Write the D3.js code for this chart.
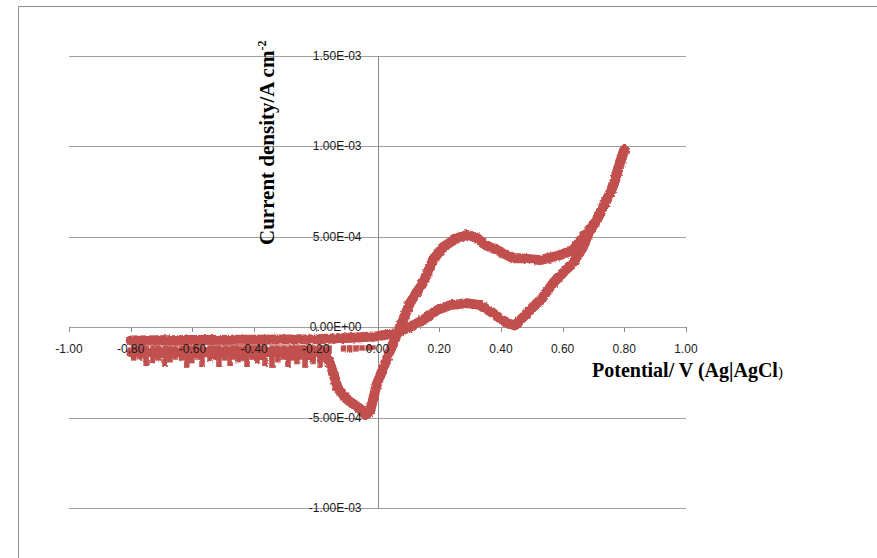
<!doctype html>
<html>
<head>
    <meta charset="utf-8">
    <title>Cyclic voltammogram</title>
    <style>
        body { margin: 0; background: #fff; }
        svg { display: block; }
        .grid { stroke: #a0a0a0; stroke-width: 1.3; shape-rendering: crispEdges; }
        .axis { stroke: #8a8a8a; stroke-width: 1; shape-rendering: crispEdges; }
        .tick-label { font-family: "Liberation Sans", Arial, sans-serif; font-size: 12px; fill: #1a1a1a; }
        .title { font-family: "Liberation Serif", "Times New Roman", serif; font-weight: bold; font-size: 20px; fill: #000; }
        .scan { fill: none; stroke: #c0504d; stroke-width: 10; stroke-linejoin: round; stroke-linecap: round; }
        .spike { stroke: #c0504d; stroke-width: 5.5; }
    </style>
</head>
<body>
<div id="chart"></div>
<script src="https://cdn.jsdelivr.net/npm/d3@7"></script>
<script>
    // axis ticks
    var xTicks = [-1.0, -0.8, -0.6, -0.4, -0.2, 0.0, 0.2, 0.4, 0.6, 0.8, 1.0];
    var yTicks = [-1.0e-3, -5.0e-4, 0, 5.0e-4, 1.0e-3, 1.5e-3];

    // cathodic-going scan, 0.80 V -> -0.80 V (current in A cm-2)
    var backV = [0.80, 0.786, 0.77, 0.754, 0.731, 0.711, 0.689, 0.666, 0.634, 0.601, 0.569, 0.536,
                 0.504, 0.472, 0.445, 0.425, 0.40, 0.374, 0.332, 0.29, 0.235, 0.193, 0.147, 0.105,
                 0.057, 0.0, -0.1, -0.2, -0.4, -0.6, -0.8];
    var backI = [9.8e-4, 9.1e-4, 8.15e-4, 7.4e-4, 6.65e-4, 5.93e-4, 5.38e-4, 4.43e-4, 3.55e-4, 3.0e-4, 2.44e-4, 1.66e-4,
                 1.11e-4, 0.55e-4, 0.1e-4, 0.2e-4, 0.45e-4, 0.78e-4, 1.22e-4, 1.33e-4, 1.22e-4, 0.94e-4, 0.39e-4, 0.0,
                 -0.33e-4, -0.5e-4, -0.6e-4, -0.66e-4, -0.69e-4, -0.71e-4, -0.73e-4];

    // anodic-going scan, -0.80 V -> 0.80 V
    var fwdV = [-0.8, -0.6, -0.4, -0.2, -0.17, -0.154, -0.128, -0.099, -0.057, -0.04, -0.025, -0.002,
                0.04, 0.083, 0.105, 0.147, 0.18, 0.212, 0.258, 0.29, 0.323, 0.348, 0.387, 0.439,
                0.462, 0.527, 0.592, 0.634, 0.666, 0.689, 0.711, 0.731, 0.754, 0.77, 0.786, 0.80];
    var fwdI = [-1.38e-4, -1.38e-4, -1.38e-4, -1.35e-4, -1.48e-4, -2.0e-4, -3.4e-4, -4.0e-4, -4.5e-4, -4.85e-4, -4.7e-4, -3.15e-4,
                -1.33e-4, 0.39e-4, 1.33e-4, 2.44e-4, 3.71e-4, 4.43e-4, 4.93e-4, 5.1e-4, 4.93e-4, 4.55e-4, 4.27e-4, 3.82e-4,
                3.82e-4, 3.71e-4, 3.99e-4, 4.27e-4, 4.99e-4, 5.38e-4, 5.93e-4, 6.65e-4, 7.4e-4, 8.15e-4, 9.1e-4, 9.8e-4];

    // noise spikes below the cathodic tail (position, lowest current)
    var spikeV = [-0.79, -0.77, -0.75, -0.728, -0.71, -0.689, -0.673, -0.655, -0.635, -0.618, -0.602, -0.585,
                  -0.569, -0.543, -0.53, -0.514, -0.495, -0.478, -0.465, -0.452, -0.437, -0.423, -0.405, -0.391,
                  -0.378, -0.365, -0.342, -0.323, -0.305, -0.29, -0.275, -0.261, -0.248, -0.235, -0.222, -0.209,
                  -0.186, -0.17, -0.157,
                  -0.11, -0.09, -0.07, -0.05, -0.03, -0.015];
    var spikeI = [-1.85e-4, -1.8e-4, -2.15e-4, -2.0e-4, -1.85e-4, -2.2e-4, -1.95e-4, -1.8e-4, -1.85e-4, -2.25e-4, -2.0e-4, -1.8e-4,
                  -2.15e-4, -1.9e-4, -1.8e-4, -2.2e-4, -1.85e-4, -2.15e-4, -1.8e-4, -1.95e-4, -1.85e-4, -2.2e-4, -1.8e-4, -2.0e-4,
                  -1.85e-4, -2.15e-4, -2.25e-4, -1.95e-4, -1.8e-4, -2.2e-4, -1.85e-4, -2.05e-4, -1.8e-4, -2.25e-4, -1.85e-4, -2.05e-4,
                  -2.25e-4, -1.9e-4, -2.15e-4,
                  -1.35e-4, -1.4e-4, -1.35e-4, -1.3e-4, -1.3e-4, -1.25e-4];
    var spikeBase = -1.0e-4;

    var svg_width = 877;
    var svg_height = 558;

    var x = d3.scaleLinear().domain([-1, 1]).range([69, 686]);
    var y = d3.scaleLinear().domain([-1e-3, 1.5e-3]).range([508, 56]);

    var svg = d3.select('#chart').append('svg')
        .attr('width', svg_width)
        .attr('height', svg_height);

    // roughen the marker band edges a little
    var filter = svg.append('defs').append('filter')
        .attr('id', 'rough')
        .attr('filterUnits', 'userSpaceOnUse')
        .attr('x', 0).attr('y', 0)
        .attr('width', svg_width).attr('height', svg_height);
    filter.append('feTurbulence')
        .attr('type', 'fractalNoise')
        .attr('baseFrequency', 0.35)
        .attr('numOctaves', 2)
        .attr('seed', 3)
        .attr('result', 'noise');
    filter.append('feDisplacementMap')
        .attr('in', 'SourceGraphic')
        .attr('in2', 'noise')
        .attr('scale', 3)
        .attr('xChannelSelector', 'R')
        .attr('yChannelSelector', 'G');

    // chart area frame (only top and left visible)
    svg.append('path')
        .attr('d', 'M18.5,' + svg_height + 'V6.5H' + svg_width)
        .attr('fill', 'none')
        .attr('stroke', '#909090');

    // horizontal gridlines
    svg.selectAll('line.grid')
        .data(yTicks)
      .enter().append('line')
        .attr('class', 'grid')
        .attr('x1', x(-1))
        .attr('x2', x(1))
        .attr('y1', function(d) { return Math.round(y(d)) + 0.5; })
        .attr('y2', function(d) { return Math.round(y(d)) + 0.5; });

    // vertical axis at 0 V
    svg.append('line')
        .attr('class', 'axis')
        .attr('x1', Math.round(x(0)) + 0.5)
        .attr('x2', Math.round(x(0)) + 0.5)
        .attr('y1', y(1.5e-3))
        .attr('y2', y(-1e-3));

    // x tick marks on the zero line
    svg.selectAll('line.xtick')
        .data(xTicks)
      .enter().append('line')
        .attr('class', 'axis xtick')
        .attr('x1', function(d) { return Math.round(x(d)) + 0.5; })
        .attr('x2', function(d) { return Math.round(x(d)) + 0.5; })
        .attr('y1', y(0))
        .attr('y2', y(0) + 5);

    // data
    var line = d3.line()
        .x(function(d) { return x(d[0]); })
        .y(function(d) { return y(d[1]); });

    var back = backV.map(function(v, i) { return [v, backI[i]]; });
    var fwd = fwdV.map(function(v, i) { return [v, fwdI[i]]; });

    var series = svg.append('g').attr('filter', 'url(#rough)');

    series.selectAll('line.spike')
        .data(spikeV.map(function(v, i) { return [v, spikeI[i]]; }))
      .enter().append('line')
        .attr('class', 'spike')
        .attr('x1', function(d) { return x(d[0]); })
        .attr('x2', function(d) { return x(d[0]); })
        .attr('y1', y(spikeBase))
        .attr('y2', function(d) { return y(d[1]); });

    series.append('path').attr('class', 'scan').attr('d', line(back));
    series.append('path').attr('class', 'scan').attr('d', line(fwd));

    // tick labels
    function fmtE(v) {
        var parts = v.toExponential(2).split('e');
        var n = +parts[1];
        return parts[0] + 'E' + (n < 0 ? '-' : '+') + String(Math.abs(n)).padStart(2, '0');
    }

    svg.selectAll('text.ylab')
        .data(yTicks)
      .enter().append('text')
        .attr('class', 'tick-label ylab')
        .attr('x', x(0) - 16)
        .attr('y', function(d) { return y(d) + 4; })
        .attr('text-anchor', 'end')
        .text(fmtE);

    svg.selectAll('text.xlab')
        .data(xTicks)
      .enter().append('text')
        .attr('class', 'tick-label xlab')
        .attr('x', function(d) { return x(d); })
        .attr('y', y(0) + 26)
        .attr('text-anchor', 'middle')
        .text(function(d) { return d.toFixed(2); });

    // axis titles
    var yt = svg.append('text')
        .attr('class', 'title')
        .attr('transform', 'translate(274,245) rotate(-90)');
    yt.append('tspan').style('font-size', '21px').text('Current density/A cm');
    yt.append('tspan').attr('dy', -8).style('font-size', '12px').text('-2');

    var xt = svg.append('text')
        .attr('class', 'title')
        .attr('x', 592)
        .attr('y', 377);
    xt.append('tspan').text('Potential/ V (Ag|AgCl');
    xt.append('tspan').style('font-size', '15px').style('font-weight', 'normal').text(')');
</script>
</body>
</html>
